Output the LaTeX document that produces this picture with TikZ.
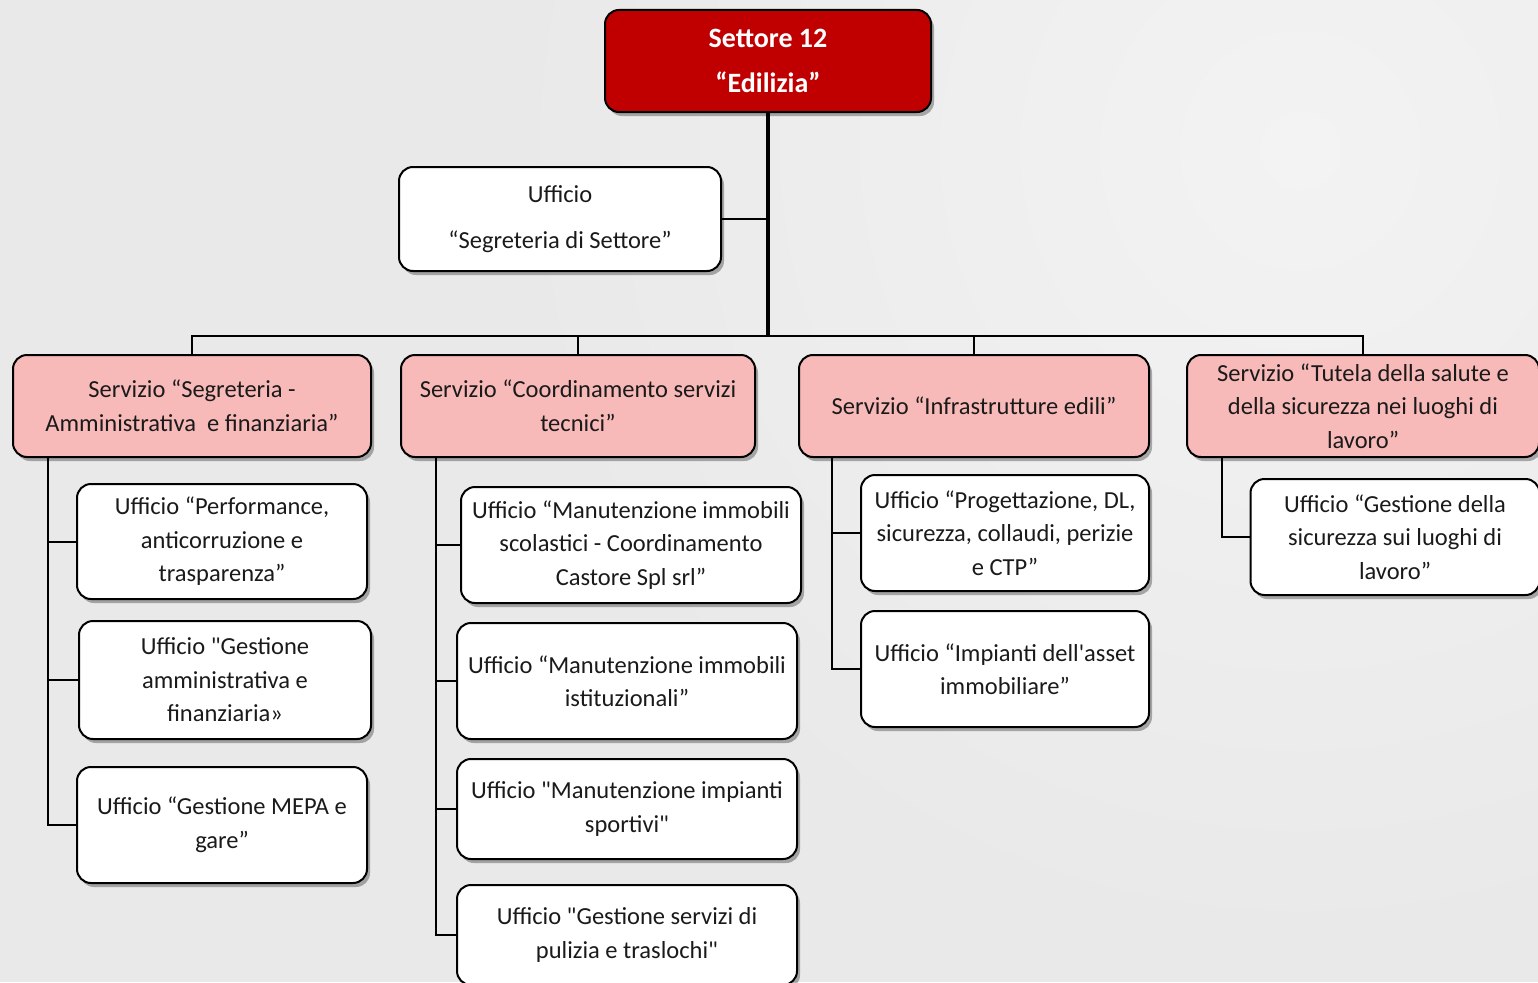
\documentclass[tikz,border=0pt]{standalone}
\usepackage{fontspec}
\setmainfont{Carlito}[Ligatures=TeXOff]
\usetikzlibrary{shadows,calc}
\definecolor{bg}{RGB}{233,233,233}
\definecolor{bglight}{RGB}{243,243,243}
\definecolor{redbox}{RGB}{192,0,0}
\definecolor{pinkbox}{RGB}{248,185,185}
\definecolor{txt}{RGB}{26,26,26}
\tikzset{
 box/.style={draw=black, line width=2pt, rounded corners=14pt, align=center, inner sep=0pt,
   text=txt, font=\fontsize{24.5}{33.5}\selectfont,
   drop shadow={shadow xshift=3pt, shadow yshift=-4pt, opacity=0.3, fill=black}},
 ufficio/.style={box, fill=white},
 servizio/.style={box, fill=pinkbox},
 settore/.style={box, fill=redbox, text=white, font=\fontsize{28}{45}\selectfont\bfseries},
 conn/.style={draw=black, line width=2pt},
 trunk/.style={draw=black, line width=4pt},
}
\begin{document}
\begin{tikzpicture}[x=1pt,y=-1pt]
\useasboundingbox (0,0) rectangle (1538,982);
\clip (0,0) rectangle (1538,982);
\fill[bg] (0,0) rectangle (1538,982);
\shade[inner color=bglight, outer color=bg] (1300,150) circle (800);

% top
\node[settore, minimum width=326pt, minimum height=102pt] (top) at (768,61) {Settore 12\\“Edilizia”};
\node[ufficio, minimum width=322pt, minimum height=104pt, font=\fontsize{24.5}{46}\selectfont] (seg) at (560,219) {Ufficio\\“Segreteria di Settore”};

% servizi
\node[servizio, minimum width=358pt, minimum height=102pt] (S1) at (192,406) {Servizio “Segreteria -\\Amministrativa \ e finanziaria”};
\node[servizio, minimum width=354pt, minimum height=102pt] (S2) at (578,406) {Servizio “Coordinamento servizi\\tecnici”};
\node[servizio, minimum width=350pt, minimum height=102pt] (S3) at (974,406) {Servizio “Infrastrutture edili”};
\node[servizio, minimum width=352pt, minimum height=102pt] (S4) at (1363,406) {Servizio “Tutela della salute e\\della sicurezza nei luoghi di\\lavoro”};

% column 1
\node[ufficio, minimum width=290pt, minimum height=115pt] (C1a) at (222,541.5) {Ufficio “Performance,\\anticorruzione e\\trasparenza”};
\node[ufficio, minimum width=292pt, minimum height=118pt] (C1b) at (225,680) {Ufficio "Gestione\\amministrativa e\\finanziaria»};
\node[ufficio, minimum width=290pt, minimum height=116pt] (C1c) at (222,825) {Ufficio “Gestione MEPA e\\gare”};

% column 2
\node[ufficio, minimum width=340pt, minimum height=116pt] (C2a) at (631,545) {Ufficio “Manutenzione immobili\\scolastici - Coordinamento\\Castore Spl srl”};
\node[ufficio, minimum width=340pt, minimum height=116pt] (C2b) at (627,681) {Ufficio “Manutenzione immobili\\istituzionali”};
\node[ufficio, minimum width=340pt, minimum height=100pt] (C2c) at (627,809) {Ufficio "Manutenzione impianti\\sportivi"};
\node[ufficio, minimum width=340pt, minimum height=100pt] (C2d) at (627,935) {Ufficio "Gestione servizi di\\pulizia e traslochi"};

% column 3
\node[ufficio, minimum width=288pt, minimum height=116pt] (C3a) at (1005,533) {Ufficio “Progettazione, DL,\\sicurezza, collaudi, perizie\\e CTP”};
\node[ufficio, minimum width=288pt, minimum height=116pt] (C3b) at (1005,669) {Ufficio “Impianti dell'asset\\immobiliare”};

% column 4
\node[ufficio, minimum width=289pt, minimum height=116pt] (C4) at (1395,537) {Ufficio “Gestione della\\sicurezza sui luoghi di\\lavoro”};

% connectors
\coordinate (bus) at (768,336);
\draw[trunk] (top.south) -- (bus);
\draw[conn] (seg.east) -- (seg.east -| top.south);
\foreach \s in {S1,S2,S3,S4} \draw[conn] (\s.north) |- (bus);

\foreach \c in {C1a,C1b,C1c} \draw[conn] ($(S1.south west)+(36,0)$) |- (\c.west);
\foreach \c in {C2a,C2b,C2c,C2d} \draw[conn] ($(S2.south west)+(36,0)$) |- (\c.west);
\foreach \c in {C3a,C3b} \draw[conn] ($(S3.south west)+(34,0)$) |- (\c.west);
\draw[conn] ($(S4.south west)+(36,0)$) |- (C4.west);
\end{tikzpicture}
\end{document}
